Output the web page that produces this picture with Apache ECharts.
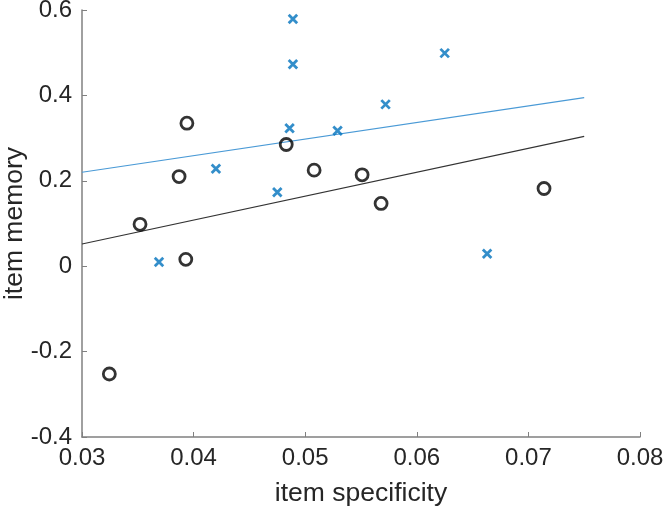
<!DOCTYPE html>
<html>
<head>
<meta charset="utf-8">
<script src="https://cdn.jsdelivr.net/npm/echarts@6/dist/echarts.min.js"></script>
<style>html,body{margin:0;padding:0;background:#fff}#c{width:665px;height:511px}</style>
</head>
<body>
<div id="c"></div>
<script>
var circleX = [0.0352, 0.0394, 0.0387, 0.0393, 0.03245, 0.0483, 0.0508, 0.0551, 0.0568, 0.0714];
var circleY = [0.098, 0.335, 0.210, 0.016, -0.2525, 0.285, 0.225, 0.214, 0.147, 0.182];
var crossX = [0.0489, 0.0489, 0.0486, 0.0529, 0.0420, 0.0475, 0.0369, 0.0625, 0.0572, 0.0663];
var crossY = [0.579, 0.473, 0.323, 0.317, 0.228, 0.173, 0.010, 0.499, 0.379, 0.029];
var blueLineX = [0.03, 0.075];
var blueLineY = [0.220, 0.395];
var blackLineX = [0.03, 0.075];
var blackLineY = [0.052, 0.304];
var xTicks = ['0.03', '0.04', '0.05', '0.06', '0.07', '0.08'];
var yTicks = ['-0.4', '-0.2', '0', '0.2', '0.4', '0.6'];

function zip(a, b) { return a.map(function (v, i) { return [v, b[i]]; }); }
var font = 'Liberation Sans, Arial, Helvetica, sans-serif';
var chart = echarts.init(document.getElementById('c'), null, {renderer: 'canvas'});
chart.setOption({
  animation: false,
  backgroundColor: '#fff',
  grid: {left: 82, right: 25, top: 10, bottom: 74, containLabel: false, outerBoundsMode: 'none'},
  xAxis: {
    type: 'value', min: 0.03, max: 0.08, interval: 0.01,
    name: 'item specificity', nameLocation: 'middle', nameGap: 43, nameMoveOverlap: false,
    nameTextStyle: {fontFamily: font, fontSize: 26.5, color: '#262626'},
    axisLine: {show: true, onZero: false, lineStyle: {color: '#808080', width: 1.5}},
    axisTick: {show: true, inside: true, length: 5, lineStyle: {color: '#808080'}},
    axisLabel: {fontFamily: font, fontSize: 24, color: '#262626', margin: 9,
      formatter: function (v) { return xTicks[Math.round((v - 0.03) / 0.01)]; }},
    splitLine: {show: false}
  },
  yAxis: {
    type: 'value', min: -0.4, max: 0.6, interval: 0.2,
    name: 'item memory', nameLocation: 'middle', nameGap: 54, nameMoveOverlap: false,
    nameTextStyle: {fontFamily: font, fontSize: 26.5, color: '#262626'},
    axisLine: {show: true, onZero: false, lineStyle: {color: '#808080', width: 1.5}},
    axisTick: {show: true, inside: true, length: 5, lineStyle: {color: '#808080'}},
    axisLabel: {fontFamily: font, fontSize: 24, color: '#262626', margin: 10,
      formatter: function (v) { return yTicks[Math.round((v + 0.4) / 0.2)]; }},
    splitLine: {show: false}
  },
  series: [
    {type: 'line', data: zip(blueLineX, blueLineY), symbol: 'none',
      lineStyle: {color: '#4a9ad6', width: 1.2}, z: 1},
    {type: 'line', data: zip(blackLineX, blackLineY), symbol: 'none',
      lineStyle: {color: '#333333', width: 1.2}, z: 1},
    {type: 'scatter', data: zip(crossX, crossY), symbol: 'path://M0,0L10,10M10,0L0,10',
      symbolSize: 8.5, itemStyle: {color: 'none', borderColor: '#0072BD', borderWidth: 2.8}, z: 3},
    {type: 'scatter', data: zip(circleX, circleY), symbol: 'circle', symbolSize: 12,
      itemStyle: {color: 'none', borderColor: '#000000', borderWidth: 2.8}, z: 4}
  ]
});
</script>
</body>
</html>
